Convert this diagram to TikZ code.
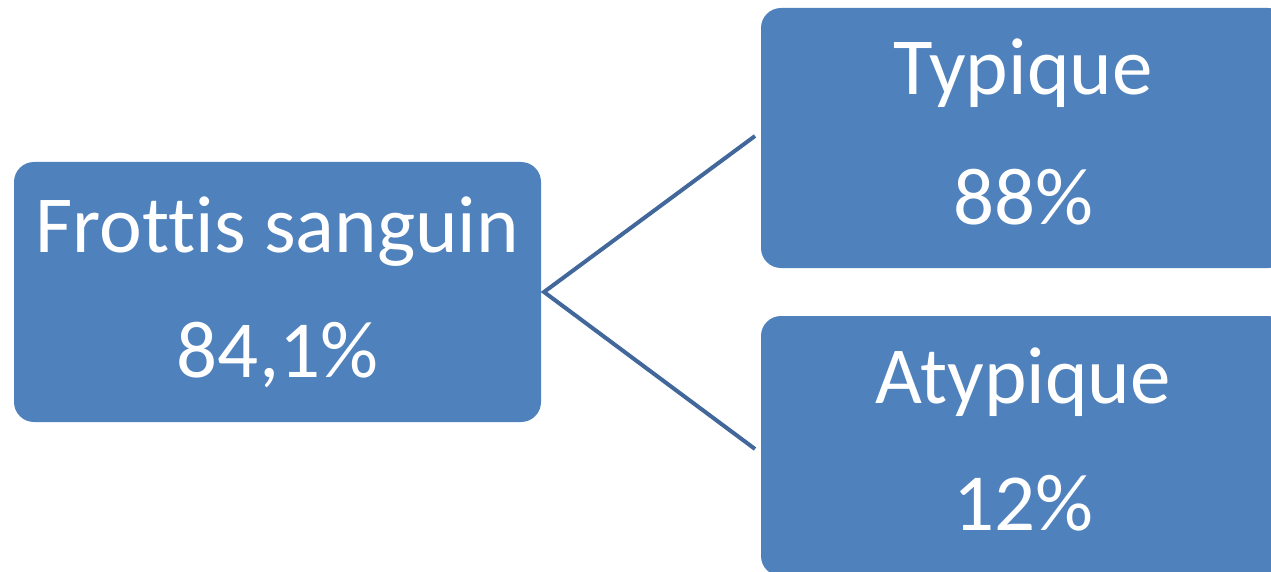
\documentclass[tikz,border=0pt]{standalone}
\usepackage{fontspec}
\setmainfont[Ligatures={NoCommon}]{Carlito}
\definecolor{boxblue}{HTML}{4F81BD}
\definecolor{linkblue}{HTML}{41679B}
\begin{document}
\begin{tikzpicture}[x=1pt,y=-1pt,
  box/.style={fill=boxblue, draw=none, rounded corners=20pt, minimum width=527pt, minimum height=260pt, inner sep=0pt, outer sep=0pt},
  txt/.style={text=white, anchor=base, inner sep=0pt, font=\fontsize{81}{96}\selectfont},
  link/.style={draw=linkblue, line width=4pt}]
\useasboundingbox (0,0) rectangle (1271,572);
\clip (0,0) rectangle (1271,572);
\node[box] (src) at (277.5,292) {};
\node[box] (typ) at (1024.5,138) {};
\node[box] (aty) at (1024.5,446) {};
\node[txt] (t1) at (277.5,252) {Frottis sanguin};
\node[txt] (t2) at (277.5,377) {84,1\%};
\node[txt] (t3) at (1023,95) {Typique};
\node[txt] (t4) at (1023,225) {88\%};
\node[txt] (t5) at (1023,403) {Atypique};
\node[txt] (t6) at (1023,530) {12\%};
\coordinate (j) at ([xshift=3pt]src.east);
\coordinate (e1) at ([xshift=-6pt,yshift=2pt]typ.west);
\coordinate (e2) at ([xshift=-6pt,yshift=-3pt]aty.west);
\draw[link] (e1) -- (j) -- (e2);
\end{tikzpicture}
\end{document}
